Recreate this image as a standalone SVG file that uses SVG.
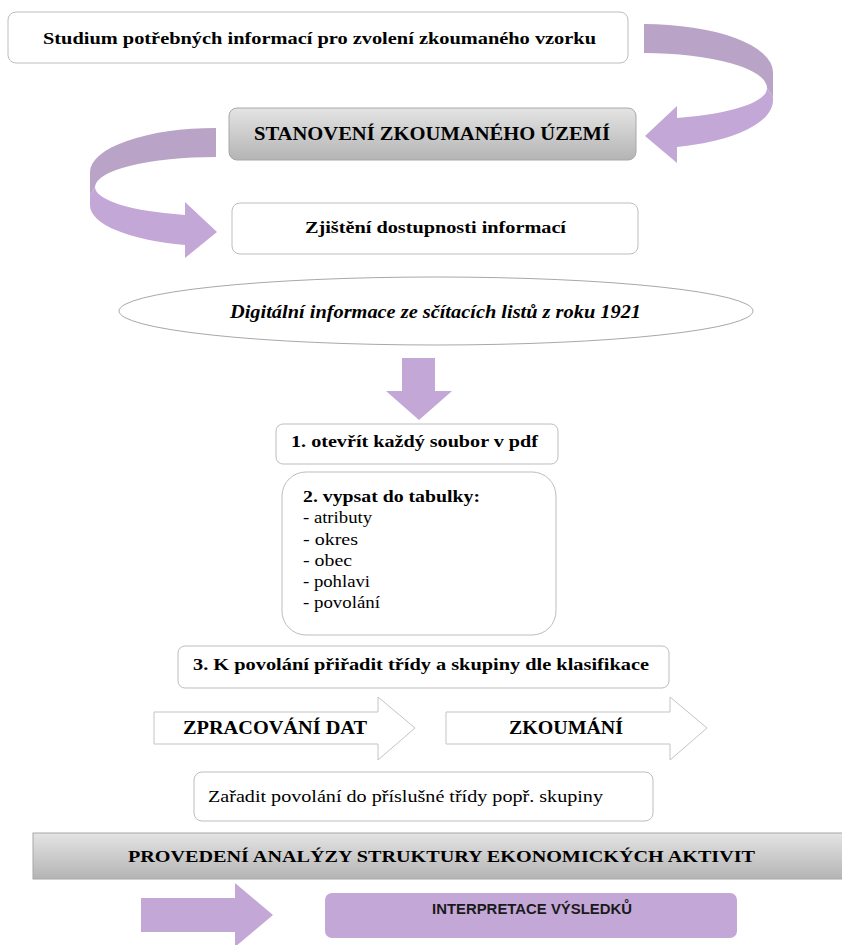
<svg xmlns="http://www.w3.org/2000/svg" width="842" height="945" viewBox="0 0 842 945">
<defs>
<linearGradient id="grayGrad" x1="0" y1="0" x2="0" y2="1">
<stop offset="0" stop-color="#e4e4e4"/>
<stop offset="1" stop-color="#b4b4b4"/>
</linearGradient>
<style>
.box{fill:#ffffff;stroke:#bdbdbd;stroke-width:1}
.gbox{fill:url(#grayGrad);stroke:#a8a8a8;stroke-width:1}
.purple{fill:#c3a7d7}
.purpleDark{fill:#b9a4c8}
.barrow{fill:#ffffff;stroke:#c4c4c4;stroke-width:1}
.tb{font-family:"Liberation Serif","Times New Roman",serif;font-weight:bold;fill:#000}
.tr{font-family:"Liberation Serif","Times New Roman",serif;fill:#000}
.ti{font-family:"Liberation Serif","Times New Roman",serif;font-weight:bold;font-style:italic;fill:#000}
.ts{font-family:"Liberation Sans",Arial,sans-serif;font-weight:bold;fill:#1a1a1a}
</style>
</defs>
<rect width="842" height="945" fill="#ffffff"/>

<g id="connectors">
<g id="curved-arrow-1">
<path class="purpleDark" d="M644,24 A129,48 0 0 1 773,72 L773,97 L767,88 A123,35 0 0 0 644,53 Z"/>
<path class="purple" d="M767,88 L773,97 L773,100 A129,48 0 0 1 677,147 L677,163 L645,136 L677,106 L677,118 A123,31 0 0 0 767,88 Z"/>
</g>
<g id="curved-arrow-2">
<path class="purpleDark" d="M216,128 A126,44 0 0 0 90,172 L90,195 L95,187 A121,30 0 0 1 216,157 Z"/>
<path class="purple" d="M95,187 L90,195 L90,205 A126,41 0 0 0 185,245 L185,258 L217,232 L185,202 L185,215 A121,29 0 0 1 95,187 Z"/>
</g>
<polygon id="down-arrow" class="purple" points="402,358 435,358 435,391 452,391 419,420 386,391 402,391"/>
<polygon id="right-arrow" class="purple" points="141,898 235,898 235,883 273,915 235,947 235,932 141,932"/>
</g>

<g id="node-studium">
<rect class="box" x="8" y="12" width="620" height="51" rx="8"/>
<text class="tb" x="319.5" y="44" font-size="17" text-anchor="middle" textLength="553" lengthAdjust="spacingAndGlyphs">Studium potřebných informací pro zvolení zkoumaného vzorku</text>
</g>

<g id="node-stanoveni">
<rect class="gbox" x="229" y="108" width="407" height="52" rx="8"/>
<text class="tb" x="432" y="140" font-size="18" text-anchor="middle" textLength="356" lengthAdjust="spacingAndGlyphs">STANOVENÍ ZKOUMANÉHO ÚZEMÍ</text>
</g>

<g id="node-zjisteni">
<rect class="box" x="232" y="203" width="406" height="51" rx="8"/>
<text class="tb" x="435.5" y="233" font-size="17" text-anchor="middle" textLength="261" lengthAdjust="spacingAndGlyphs">Zjištění dostupnosti informací</text>
</g>

<g id="node-digitalni">
<ellipse cx="436" cy="311" rx="317" ry="34" fill="#ffffff" stroke="#a8a8a8" stroke-width="1"/>
<text class="ti" x="435.5" y="318" font-size="18" text-anchor="middle" textLength="411" lengthAdjust="spacingAndGlyphs">Digitální informace ze sčítacích listů z roku 1921</text>
</g>

<g id="node-step1">
<rect class="box" x="276" y="424" width="282" height="40" rx="7"/>
<text class="tb" x="291" y="447" font-size="17" textLength="247" lengthAdjust="spacingAndGlyphs">1. otevřít každý soubor v pdf</text>
</g>

<g id="node-step2">
<rect class="box" x="282" y="472" width="274" height="163" rx="24"/>
<text class="tb" x="303" y="502" font-size="17" textLength="177" lengthAdjust="spacingAndGlyphs">2. vypsat do tabulky:</text>
<text class="tr" x="303" y="523" font-size="16" textLength="69" lengthAdjust="spacingAndGlyphs">- atributy</text>
<text class="tr" x="303" y="545" font-size="16" textLength="55" lengthAdjust="spacingAndGlyphs">- okres</text>
<text class="tr" x="303" y="566" font-size="16" textLength="49" lengthAdjust="spacingAndGlyphs">- obec</text>
<text class="tr" x="303" y="587" font-size="16" textLength="67" lengthAdjust="spacingAndGlyphs">- pohlavi</text>
<text class="tr" x="303" y="608" font-size="16" textLength="77" lengthAdjust="spacingAndGlyphs">- povolání</text>
</g>

<g id="node-step3">
<rect class="box" x="178" y="646" width="491" height="42" rx="7"/>
<text class="tb" x="193" y="670" font-size="17" textLength="456" lengthAdjust="spacingAndGlyphs">3. K povolání přiřadit třídy a skupiny dle klasifikace</text>
</g>

<g id="node-zpracovani">
<polygon class="barrow" points="154,712 378,712 378,697 415,728 378,760 378,744 154,744"/>
<text class="tb" x="183" y="734" font-size="18" textLength="184" lengthAdjust="spacingAndGlyphs">ZPRACOVÁNÍ DAT</text>
</g>

<g id="node-zkoumani">
<polygon class="barrow" points="446,712 670,712 670,697 707,728 670,760 670,744 446,744"/>
<text class="tb" x="509" y="734" font-size="18" textLength="114" lengthAdjust="spacingAndGlyphs">ZKOUMÁNÍ</text>
</g>

<g id="node-zaradit">
<rect class="box" x="194" y="772" width="459" height="49" rx="8"/>
<text class="tr" x="208" y="802" font-size="17" textLength="395" lengthAdjust="spacingAndGlyphs">Zařadit povolání do příslušné třídy popř. skupiny</text>
</g>

<g id="node-analyza">
<rect class="gbox" x="33" y="833" width="812" height="46"/>
<text class="tb" x="128" y="862" font-size="17" textLength="627" lengthAdjust="spacingAndGlyphs">PROVEDENÍ ANALÝZY STRUKTURY EKONOMICKÝCH AKTIVIT</text>
</g>

<g id="node-interpretace">
<rect class="purple" x="325" y="893" width="412" height="45" rx="7"/>
<text class="ts" x="432" y="914" font-size="14" textLength="200" lengthAdjust="spacingAndGlyphs">INTERPRETACE VÝSLEDKŮ</text>
</g>
</svg>
